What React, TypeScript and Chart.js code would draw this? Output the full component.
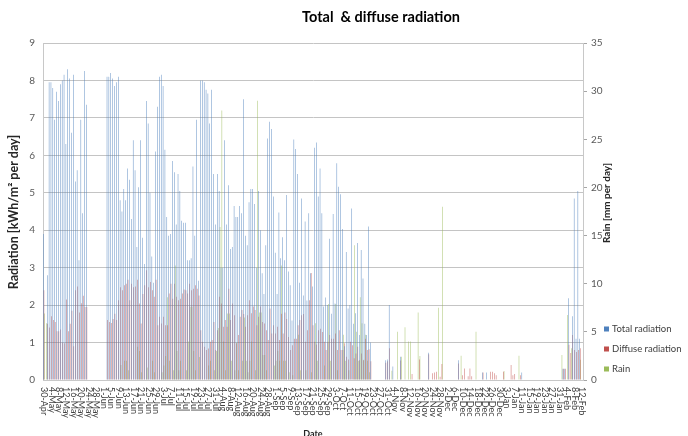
import React, { useEffect, useRef } from 'react';
import { Chart, registerables } from 'chart.js';

Chart.register(...registerables);

const N = null;
const FONT = 'Lato, "Open Sans", sans-serif';

// every 4th day from 30-Apr (category index = day number)
const tickLabels = [
  '30-Apr', '4-May', '8-May', '12-May', '16-May', '20-May', '24-May', '28-May',
  '1-Jun', '5-Jun', '9-Jun', '13-Jun', '17-Jun', '21-Jun', '25-Jun', '29-Jun',
  '3-Jul', '7-Jul', '11-Jul', '15-Jul', '19-Jul', '23-Jul', '27-Jul', '31-Jul',
  '4-Aug', '8-Aug', '12-Aug', '16-Aug', '20-Aug', '24-Aug', '28-Aug',
  '1-Sep', '5-Sep', '9-Sep', '13-Sep', '17-Sep', '21-Sep', '25-Sep', '29-Sep',
  '3-Oct', '7-Oct', '11-Oct', '15-Oct', '19-Oct', '23-Oct', '27-Oct', '31-Oct',
  '4-Nov', '8-Nov', '12-Nov', '16-Nov', '20-Nov', '24-Nov', '28-Nov',
  '2-Dec', '6-Dec', '10-Dec', '14-Dec', '18-Dec', '22-Dec', '26-Dec', '30-Dec',
  '3-Jan', '7-Jan', '11-Jan', '15-Jan', '19-Jan', '23-Jan', '27-Jan', '31-Jan',
  '4-Feb', '8-Feb', '12-Feb',
];
const DAY_COUNT = 289;

const totalRadiation = [
  3.9, N, 2.8, 7.95, 7.95, 7.8, 6.95, 7.7, 7.45, 7.9,
  8.0, 8.15, 6.3, 8.3, 8.05, 6.6, 8.15, 5.3, 5.6, 3.2,
  6.95, 4.45, 8.25, 7.35, N, N, N, N, N, N,
  N, N, N, N, 8.1, 8.1, 8.2, 8.05, 7.85, 7.95,
  8.1, 4.8, 4.5, 5.1, 4.8, 5.65, 5.35, 4.3, 6.4, 5.6,
  3.55, 5.15, 6.4, 3.8, 3.1, 7.45, 6.85, 5.0, 3.3, 2.6,
  6.1, 7.3, 8.1, 8.15, 7.85, 6.15, 4.35, 3.85, 3.9, 5.85,
  5.55, 4.15, 5.5, 5.05, 4.25, 4.2, 4.2, 3.2, 3.2, 3.25,
  5.7, 3.85, 6.95, 2.65, 8.0, 8.0, 7.95, 7.75, 7.65, 6.85,
  7.75, 5.5, 4.15, 5.5, 5.05, 3.0, 3.0, 6.4, 4.15, 5.2,
  3.5, 3.55, 4.65, 4.35, 4.35, 4.65, 4.45, 7.5, 3.85, 3.6,
  4.75, 5.1, 5.1, 4.7, 3.0, 5.05, 4.0, 2.85, 2.3, 3.6,
  6.45, 6.9, 6.7, 4.9, 3.4, 2.3, 4.47, 3.25, 3.81, 3.2,
  4.94, 2.9, 2.53, 1.59, 6.42, 6.17, 5.5, 2.6, 4.85, 2.26,
  4.23, 2.12, 4.45, 2.85, 2.5, 6.2, 6.34, 4.9, 5.65, 4.45,
  1.96, 2.2, 2.0, 3.77, 1.77, 4.43, 2.04, 5.79, 5.16, 4.96,
  4.03, 0.9, 3.42, 1.91, 2.0, 4.58, 1.5, 1.78, 3.66, 1.2,
  3.47, 2.71, 1.5, 1.2, 4.1, 1.0, N, N, N, N,
  N, N, N, 0.53, 0.55, 2.0, N, 0.36, N, N,
  N, 0.62, N, N, N, N, N, N, N, N,
  N, N, N, N, N, N, 0.73, N, N, N,
  N, N, N, N, N, N, N, N, N, N,
  N, N, 0.53, N, N, N, N, N, N, N,
  N, N, N, N, N, 0.2, N, 0.2, N, N,
  N, N, N, N, N, N, N, N, N, N,
  N, N, N, N, N, N, 0.2, N, N, N,
  N, N, N, N, N, N, N, N, N, N,
  N, N, N, N, N, N, N, N, 0.3, 0.3,
  N, 2.18, N, 1.7, 4.85, 1.1, 5.05, 1.1, N,
];

const diffuseRadiation = [
  2.4, N, 1.5, 1.4, 1.7, 1.6, 1.55, 1.3, 1.3, 1.35,
  1.0, 0.98, 2.15, 1.3, 1.5, 1.85, 0.9, 2.4, 2.5, 1.8,
  2.05, 2.25, 1.95, 1.95, N, N, N, N, N, N,
  N, N, N, N, 1.6, 1.55, 1.52, 1.63, 1.77, 1.6,
  2.13, 2.48, 2.4, 2.53, 2.57, 2.68, 2.13, 2.57, 2.48, 2.5,
  2.68, 2.04, 1.51, 2.3, 2.53, 2.93, 2.48, 2.62, 2.4, 2.22,
  2.68, 1.46, 1.69, 1.51, 1.69, 1.46, 1.46, 2.31, 2.57, 2.17,
  2.57, 2.22, 2.13, 2.17, 2.31, 2.42, 2.4, 2.31, 2.57, 2.4,
  2.44, 2.53, 2.44, 2.26, 1.33, 1.02, 0.89, 0.8, 0.84, 1.02,
  1.07, 1.55, 0.8, 1.33, 2.22, 2.04, 1.42, 1.6, 1.42, 2.44,
  1.6, 2.04, 1.73, 0.98, 1.2, 1.69, 1.87, 1.76, 1.42, 1.73,
  2.13, 1.78, 1.96, 1.87, 1.46, 1.69, 1.96, 1.55, 1.51, 1.33,
  1.07, 1.91, 1.24, 1.46, 1.24, 1.42, 1.07, 1.77, 1.24, 1.8,
  1.63, 1.15, 0.8, 0.93, 1.1, 1.1, 1.46, 1.6, 1.73, 1.76,
  1.02, 1.33, 2.13, 2.86, 1.46, 1.02, 0.95, 1.33, 1.37, 1.28,
  1.02, 0.8, 1.02, 1.2, 1.1, 1.1, 1.24, 0.8, 1.33, 0.8,
  0.8, 0.98, 0.62, 0.55, 1.02, 0.93, 0.58, 0.71, 0.89, 0.53,
  0.71, 0.53, 1.1, 0.8, 0.82, 0.5, N, N, N, N,
  N, N, N, 0.46, 0.5, 0.85, N, N, N, N,
  N, 0.52, N, N, N, N, N, 0.16, N, N,
  N, 0.55, N, N, N, N, 0.69, N, 0.18, 0.2,
  0.22, N, 0.09, 0.43, N, N, N, N, N, N,
  N, N, 0.44, N, 0.13, 0.31, N, 0.1, 0.31, 0.1,
  N, N, N, N, N, 0.2, N, N, N, 0.22,
  0.22, 0.18, 0.13, N, N, N, 0.22, N, N, N,
  0.4, 0.13, 0.16, N, N, 0.13, N, N, N, N,
  N, N, N, N, N, N, N, N, N, N,
  N, N, N, N, N, N, N, N, 0.3, 0.3,
  N, 0.94, 0.72, 1.2, 0.8, 0.75, 0.8, 0.85, N,
];

const rain = [
  6.9, 5.9, N, N, N, N, N, N, N, N,
  N, N, N, N, N, N, N, N, N, N,
  N, N, N, N, N, N, N, N, N, N,
  N, N, N, N, N, N, N, N, N, N,
  N, 1.56, N, 2.0, 2.0, 1.0, N, N, N, N,
  3.46, 3.0, 0.8, N, N, 1.3, N, N, 2.0, 0.8,
  N, N, N, 0.8, 1.5, 2.5, 8.6, 2.0, N, 1.0,
  11.9, 3.0, 1.0, 2.0, N, N, 1.0, 4.0, 7.6, 7.6,
  3.0, 1.0, N, 2.4, N, N, N, N, 1.5, 2.0,
  N, 1.0, 3.0, 5.4, 15.9, 28, 4.0, 1.0, 6.9, 6.9,
  2.0, N, 1.0, 3.9, 1.0, N, 2.0, 6.5, 2.0, 0.8,
  2.0, 4.0, N, 1.0, 29, 7.0, 7.0, 2.6, 2.6, 1.0,
  N, N, N, 1.5, 2.0, 3.0, 2.0, 11.9, 2.0, 2.0,
  N, 0.8, N, 0.5, N, N, 4.7, 1.0, N, N,
  1.0, N, N, 0.8, N, 5.9, 2.0, N, N, N,
  1.5, N, 7.9, 2.0, N, N, 7.9, 1.0, N, N,
  4.7, 2.0, N, 1.0, N, N, 14.0, 5.0, 2.0, 8.6,
  5.9, 2.1, 4.7, 2.0, 0.8, N, N, N, N, N,
  N, N, N, N, N, N, 0.97, N, N, 5.0,
  N, 2.42, N, 5.47, N, 4.0, 4.0, N, N, N,
  7.0, 2.5, N, N, N, N, N, N, N, N,
  N, 7.5, N, 18.0, N, N, N, N, N, N,
  N, N, N, 2.52, N, N, N, N, N, N,
  N, 5.0, N, N, N, N, N, N, N, N,
  N, N, N, N, N, N, 0.93, N, N, N,
  N, N, N, N, 2.52, N, N, N, N, N,
  N, N, N, N, N, N, N, N, N, N,
  N, N, N, N, N, N, N, 2.6, N, N,
  6.75, N, 3.3, N, N, N, N, 2.1, N,
];

const categories = Array.from({ length: DAY_COUNT }, (_, i) =>
  i % 4 === 0 ? tickLabels[i / 4] : ''
);

const BLUE = '#4F81BD';
const RED = '#C0504D';
const GREEN = '#9BBB59';

const decor = {
  id: 'decor',
  afterDraw(chart: any) {
    const ctx = chart.ctx as CanvasRenderingContext2D;
    const xs = chart.scales.x;
    ctx.save();
    // rotated date labels (reading top to bottom)
    ctx.fillStyle = '#404040';
    ctx.font = `9px ${FONT}`;
    ctx.textAlign = 'left';
    ctx.textBaseline = 'middle';
    tickLabels.forEach((lab, k) => {
      const px = xs.getPixelForValue(k * 4);
      ctx.save();
      ctx.translate(px, 387);
      ctx.rotate(Math.PI / 2);
      ctx.fillText(lab, 0, 0);
      ctx.restore();
    });
    // title
    ctx.fillStyle = '#000000';
    ctx.font = `bold 14.5px ${FONT}`;
    ctx.textAlign = 'center';
    ctx.fillText('Total  & diffuse radiation', 381, 17);
    // x title
    ctx.font = `bold 9px ${FONT}`;
    ctx.fillStyle = '#262626';
    ctx.fillText('Date', 313, 434);
    // left y title
    ctx.save();
    ctx.translate(14, 212);
    ctx.rotate(-Math.PI / 2);
    ctx.font = `bold 12.5px ${FONT}`;
    ctx.fillText('Radiation [kWh/m\u00b2 per day]', 0, 0);
    ctx.restore();
    // right y title
    ctx.save();
    ctx.translate(607, 203);
    ctx.rotate(-Math.PI / 2);
    ctx.font = `bold 10px ${FONT}`;
    ctx.fillText('Rain [mm per day]', 0, 0);
    ctx.restore();
    // legend
    const items: [string, string][] = [
      ['Total radiation', BLUE],
      ['Diffuse radiation', RED],
      ['Rain', GREEN],
    ];
    ctx.font = `9.5px ${FONT}`;
    ctx.textAlign = 'left';
    items.forEach(([name, col], i) => {
      const cy = 329 + i * 20;
      ctx.fillStyle = col;
      ctx.fillRect(604, cy - 2.5, 5, 5);
      ctx.fillStyle = '#404040';
      ctx.fillText(name, 612, cy);
    });
    ctx.restore();
  },
};

export default function App() {
  const ref = useRef<HTMLCanvasElement | null>(null);
  useEffect(() => {
    if (!ref.current) return;
    const chart = new Chart(ref.current, {
      type: 'bar',
      data: {
        labels: categories,
        datasets: [
          { label: 'Total radiation', data: totalRadiation, backgroundColor: BLUE, yAxisID: 'y' },
          { label: 'Diffuse radiation', data: diffuseRadiation, backgroundColor: RED, yAxisID: 'y' },
          { label: 'Rain', data: rain, backgroundColor: GREEN, yAxisID: 'y2' },
        ],
      },
      options: {
        responsive: false,
        animation: false,
        devicePixelRatio: 1,
        layout: { padding: { top: 43, left: 0, right: 0, bottom: 0 } },
        datasets: { bar: { categoryPercentage: 0.72, barPercentage: 1.0 } },
        plugins: {
          legend: { display: false },
          title: { display: false },
          tooltip: { enabled: false },
        },
        scales: {
          x: {
            type: 'category',
            ticks: { display: false },
            grid: { display: false },
            border: { display: true, color: '#c8c8c8', width: 1 },
            afterFit: (s: any) => { s.height = 56; },
          },
          y: {
            position: 'left',
            min: 0,
            max: 9,
            ticks: { stepSize: 1, color: '#595959', font: { family: FONT, size: 10 }, padding: 8 },
            grid: { color: '#c4c4c4', drawTicks: false },
            border: { display: true, color: '#c8c8c8' },
            afterFit: (s: any) => { s.width = 43; },
          },
          y2: {
            position: 'right',
            min: 0,
            max: 35,
            ticks: { stepSize: 5, color: '#595959', font: { family: FONT, size: 10 }, padding: 4 },
            grid: { drawOnChartArea: false, color: '#a6a6a6', tickLength: 4 },
            border: { display: true, color: '#c8c8c8' },
            afterFit: (s: any) => { s.width = 105; },
          },
        },
      },
      plugins: [decor],
    } as any);
    return () => chart.destroy();
  }, []);
  return (
    <div style={{ position: 'fixed', left: 0, top: 0, width: 688, height: 436, background: '#fff' }}>
      <canvas ref={ref} width={688} height={436} style={{ display: 'block' }} />
    </div>
  );
}
